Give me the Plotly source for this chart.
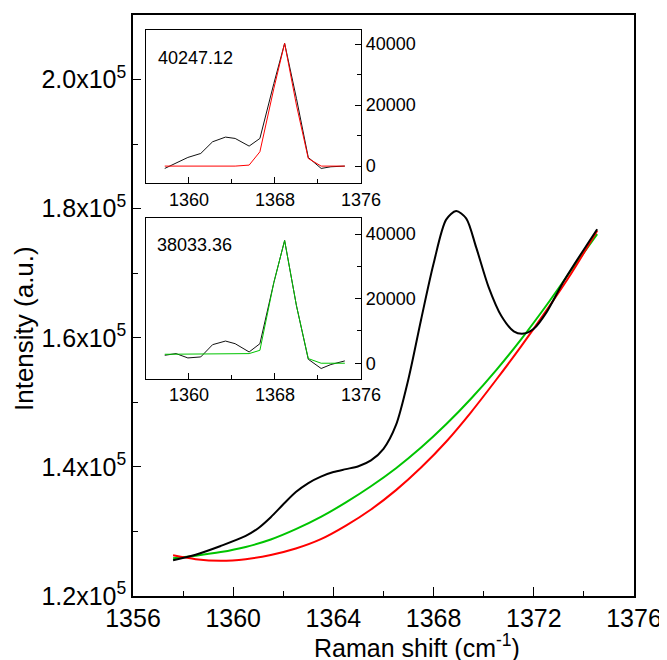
import plotly.graph_objects as go

# ---------------- main spectrum ----------------
black_x = [1357.6, 1358.5, 1359.5, 1360.5, 1361.0, 1361.5, 1362.0, 1362.5, 1363.0, 1363.5,
           1364.0, 1364.5, 1365.0, 1365.5, 1366.0, 1366.5, 1367.0, 1367.5, 1368.0, 1368.5,
           1368.9, 1369.3, 1369.7, 1370.2, 1370.7, 1371.2, 1371.6, 1372.0, 1372.5, 1373.2,
           1374.53]
black_y = [125540, 126400, 127750, 129300, 130500, 132200, 134200, 136100, 137500, 138500,
           139200, 139650, 140100, 141000, 142800, 146500, 153700, 162800, 171500, 178300,
           179640, 178500, 174000, 167800, 163400, 161000, 160650, 161400, 163900, 168800,
           176820]

green_x = [1357.6, 1358.5, 1359.5, 1360.5, 1361.5, 1362.5, 1363.5, 1364.5, 1365.5, 1366.5,
           1367.5, 1368.5, 1369.5, 1370.5, 1371.5, 1372.5, 1373.5, 1374.53]
green_y = [125850, 126250, 126800, 127600, 128750, 130350, 132250, 134500, 137000, 139800,
           143000, 146600, 150600, 155000, 159800, 165000, 170500, 176050]

red_x = [1357.6, 1358.5, 1359.5, 1360.5, 1361.5, 1362.5, 1363.5, 1364.5, 1365.5, 1366.5,
         1367.5, 1368.5, 1369.5, 1370.5, 1371.5, 1372.5, 1373.5, 1374.53]
red_y = [126300, 125700, 125450, 125700, 126350, 127350, 128800, 130900, 133400, 136400,
         139900, 143900, 148500, 153500, 158700, 164200, 170000, 176570]

# ---------------- insets ----------------
inset_x = [1357.75, 1358.8, 1359.9, 1361.1, 1362.2, 1363.4, 1364.3, 1365.6, 1366.6,
           1367.9, 1368.9, 1370.0, 1371.1, 1372.3, 1373.2, 1374.5]
inset1_black = [-765, 875, 2840, 4150, 7980, 9510, 9070, 6560, 9070,
                27100, 40247, 22190, 2840, -765, -220, 0]
inset1_red = [0, 0, 0, 0, 0, 0, 0, 330, 4700,
              25470, 40247, 20000, 2510, 0, 0, 0]
inset2_black = [2460, 2980, 1640, 1950, 5750, 6870, 6050, 3490, 6050,
                25030, 38033, 17850, 1230, -1640, -410, 720]
inset2_green = [2770, 2770, 2770, 2770, 2770, 2800, 2850, 2980, 4000,
                25030, 38033, 17850, 1440, 0, 0, 0]
inset1_label = "40247.12"
inset2_label = "38033.36"

main_xticks = [1356, 1360, 1364, 1368, 1372, 1376]
main_yticks = [120000, 140000, 160000, 180000, 200000]
main_yticktext = ["1.2x10<sup>5</sup>", "1.4x10<sup>5</sup>", "1.6x10<sup>5</sup>",
                  "1.8x10<sup>5</sup>", "2.0x10<sup>5</sup>"]
inset_xticks = [1360, 1368, 1376]
inset_yticks = [0, 20000, 40000]
inset_yticktext = ["0", "20000", "40000"]

GREEN = "#00c400"
RED = "#ff0000"
FONT = "Liberation Sans, Arial, sans-serif"

fig = go.Figure()
fig.add_trace(go.Scatter(x=green_x, y=green_y, mode="lines",
                         line=dict(color=GREEN, width=2, shape="spline", smoothing=0.8),
                         xaxis="x", yaxis="y"))
fig.add_trace(go.Scatter(x=red_x, y=red_y, mode="lines",
                         line=dict(color=RED, width=2, shape="spline", smoothing=0.8),
                         xaxis="x", yaxis="y"))
fig.add_trace(go.Scatter(x=black_x, y=black_y, mode="lines",
                         line=dict(color="black", width=2, shape="spline", smoothing=0.8),
                         xaxis="x", yaxis="y"))

fig.add_trace(go.Scatter(x=inset_x, y=inset1_black, mode="lines",
                         line=dict(color="#111111", width=1), xaxis="x2", yaxis="y2"))
fig.add_trace(go.Scatter(x=inset_x, y=inset1_red, mode="lines",
                         line=dict(color=RED, width=1), xaxis="x2", yaxis="y2"))
fig.add_trace(go.Scatter(x=inset_x, y=inset2_black, mode="lines",
                         line=dict(color="#111111", width=1), xaxis="x3", yaxis="y3"))
fig.add_trace(go.Scatter(x=inset_x, y=inset2_green, mode="lines",
                         line=dict(color=GREEN, width=1), xaxis="x3", yaxis="y3"))

axis_common = dict(showgrid=False, zeroline=False, showline=True, linecolor="black",
                   mirror=True, ticks="inside", tickcolor="black")

inset_xdom = [0.0258, 0.455]
inset1_ydom = [0.710, 0.974]
inset2_ydom = [0.374, 0.650]

# the page body has an 8px margin; the figure is offset by it inside the 667x660 window
fig.update_layout(
    width=659, height=652,
    margin=dict(l=125, r=31, t=5, b=64),
    paper_bgcolor="white", plot_bgcolor="white",
    showlegend=False,
    font=dict(family=FONT, color="black"),
    xaxis=dict(**axis_common, linewidth=1.5, range=[1356, 1376], tickvals=main_xticks,
               ticklen=9, tickwidth=1.2, tickfont=dict(size=25), ticklabelstandoff=-1,
               ticklabeloverflow="allow",
               minor=dict(dtick=2, tick0=1356, ticks="inside", ticklen=5, tickcolor="black")),
    yaxis=dict(**axis_common, linewidth=1.5, range=[120000, 210000], tickvals=main_yticks,
               ticktext=main_yticktext, ticklen=8, tickwidth=1.2, tickfont=dict(size=25),
               minor=dict(dtick=10000, tick0=120000, ticks="inside", ticklen=5, tickcolor="black")),
    xaxis2=dict(**axis_common, linewidth=1.3, domain=inset_xdom, anchor="y2", range=[1356, 1376],
                tickvals=inset_xticks, ticklen=6, tickfont=dict(size=18),
                minor=dict(dtick=4, tick0=1356, ticks="inside", ticklen=4, tickcolor="black")),
    yaxis2=dict(**axis_common, linewidth=1.3, domain=inset1_ydom, anchor="x2", side="right",
                range=[-5700, 44600], tickvals=inset_yticks, ticktext=inset_yticktext,
                ticklen=6, tickfont=dict(size=18),
                minor=dict(dtick=10000, tick0=0, ticks="inside", ticklen=4, tickcolor="black")),
    xaxis3=dict(**axis_common, linewidth=1.3, domain=inset_xdom, anchor="y3", range=[1356, 1376],
                tickvals=inset_xticks, ticklen=6, tickfont=dict(size=18),
                minor=dict(dtick=4, tick0=1356, ticks="inside", ticklen=4, tickcolor="black")),
    yaxis3=dict(**axis_common, linewidth=1.3, domain=inset2_ydom, anchor="x3", side="right",
                range=[-4800, 44900], tickvals=inset_yticks, ticktext=inset_yticktext,
                ticklen=6, tickfont=dict(size=18),
                minor=dict(dtick=10000, tick0=0, ticks="inside", ticklen=4, tickcolor="black")),
    annotations=[
        dict(text="Raman shift (cm<sup>-1</sup>)", xref="paper", yref="paper", x=0.567, y=-0.086,
             xanchor="center", yanchor="middle", showarrow=False, font=dict(size=25)),
        dict(text="Intensity (a.u.)", xref="paper", yref="paper", x=-0.219, y=0.46,
             textangle=-90, xanchor="center", yanchor="middle", showarrow=False,
             font=dict(size=26)),
        dict(text=inset1_label, xref="paper", yref="paper", x=0.045, y=0.926,
             xanchor="left", yanchor="middle", showarrow=False, font=dict(size=18)),
        dict(text=inset2_label, xref="paper", yref="paper", x=0.043, y=0.604,
             xanchor="left", yanchor="middle", showarrow=False, font=dict(size=18)),
    ],
)

fig.write_html("out.html")
